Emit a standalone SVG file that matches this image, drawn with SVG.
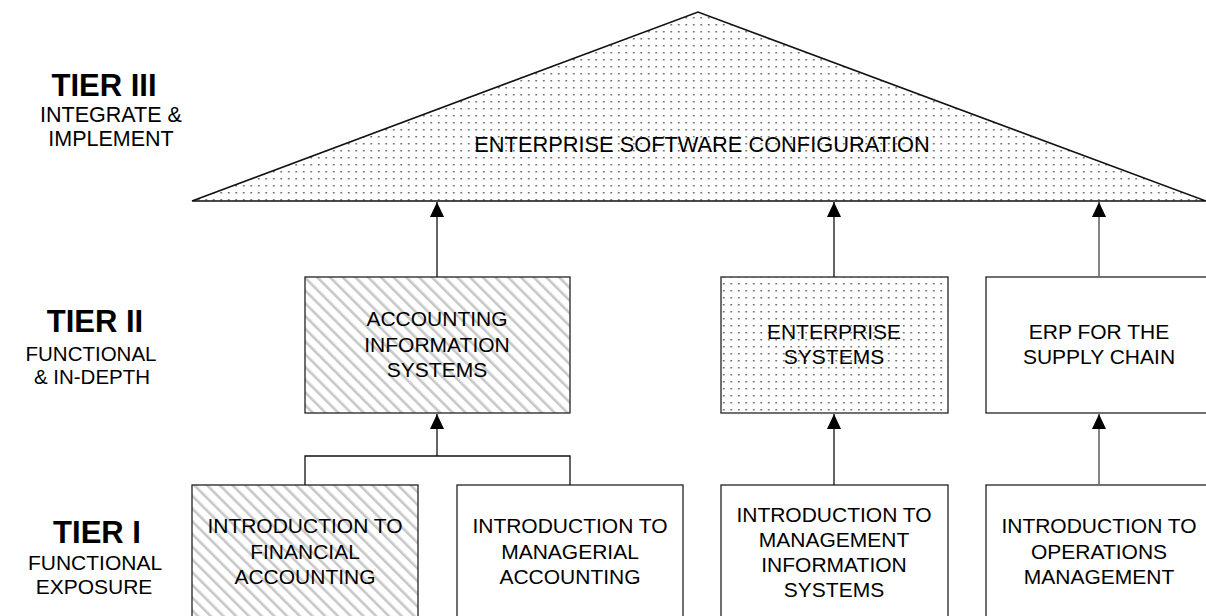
<svg xmlns="http://www.w3.org/2000/svg" width="1206" height="616" viewBox="0 0 1206 616">
<defs>
<style>
.t{font-family:"Liberation Sans",Arial,sans-serif;font-size:21px;fill:#000;text-anchor:middle}
.tier{font-family:"Liberation Sans",Arial,sans-serif;font-size:31px;font-weight:bold;fill:#000;text-anchor:middle}
.sub{font-family:"Liberation Sans",Arial,sans-serif;font-size:21px;fill:#000;text-anchor:middle}
.box{stroke:#222;stroke-width:1.3}
.c{fill:none;stroke:#111;stroke-width:1.3}
.cg{fill:none;stroke:#666;stroke-width:1.6}
</style>
<pattern id="dots" width="7.5" height="7" patternUnits="userSpaceOnUse">
<rect width="7.5" height="7" fill="#fff"/>
<rect x="3" y="3" width="1.5" height="1.5" fill="#555"/>
</pattern>
<pattern id="hatch" width="9" height="9" patternUnits="userSpaceOnUse" patternTransform="rotate(-45)">
<rect width="9" height="9" fill="#fff"/>
<rect x="0" y="0" width="2.6" height="9" fill="#c8c8c8"/>
</pattern>
<marker id="ah" markerUnits="userSpaceOnUse" markerWidth="16" markerHeight="14" refX="15" refY="7" orient="auto" viewBox="0 0 16 14">
<path d="M0,0 L15,7 L0,14 Z" fill="#000"/>
</marker>
</defs>

<g id="labels">
<text class="tier" x="104" y="96">TIER III</text>
<text class="sub" x="111" y="122" style="font-size:21.5px">INTEGRATE &amp;</text>
<text class="sub" x="111" y="146" style="font-size:21.5px">IMPLEMENT</text>
<text class="tier" x="95" y="332">TIER II</text>
<text class="sub" x="91" y="361" style="font-size:20.5px">FUNCTIONAL</text>
<text class="sub" x="92" y="384" style="font-size:20.5px">&amp; IN-DEPTH</text>
<text class="tier" x="97" y="543">TIER I</text>
<text class="sub" x="95" y="570">FUNCTIONAL</text>
<text class="sub" x="94" y="594">EXPOSURE</text>
</g>

<g id="enterprise-config">
<polygon points="192,201 698,12 1206,201" fill="url(#dots)" stroke="#111" stroke-width="1.6"/>
<text class="t" x="702" y="152" style="font-size:21.8px">ENTERPRISE SOFTWARE CONFIGURATION</text>
</g>

<g id="ais">
<rect class="box" x="305" y="277" width="265" height="136" fill="url(#hatch)"/>
<text class="t" x="437" y="326">ACCOUNTING</text>
<text class="t" x="437" y="352">INFORMATION</text>
<text class="t" x="437" y="377">SYSTEMS</text>
</g>

<g id="es">
<rect class="box" x="721" y="277" width="227" height="136" fill="url(#dots)"/>
<text class="t" x="834" y="339">ENTERPRISE</text>
<text class="t" x="834" y="364">SYSTEMS</text>
</g>

<g id="erp">
<rect class="box" x="986" y="277" width="240" height="136" fill="#fff"/>
<text class="t" x="1099" y="339">ERP FOR THE</text>
<text class="t" x="1099" y="364">SUPPLY CHAIN</text>
</g>

<g id="fin">
<rect class="box" x="192" y="485" width="226" height="150" fill="url(#hatch)"/>
<text class="t" x="305" y="533">INTRODUCTION TO</text>
<text class="t" x="305" y="559">FINANCIAL</text>
<text class="t" x="305" y="584">ACCOUNTING</text>
</g>

<g id="man">
<rect class="box" x="457" y="485" width="226" height="150" fill="#fff"/>
<text class="t" x="570" y="533">INTRODUCTION TO</text>
<text class="t" x="570" y="559">MANAGERIAL</text>
<text class="t" x="570" y="584">ACCOUNTING</text>
</g>

<g id="mis">
<rect class="box" x="721" y="485" width="227" height="150" fill="#fff"/>
<text class="t" x="834" y="522">INTRODUCTION TO</text>
<text class="t" x="834" y="547">MANAGEMENT</text>
<text class="t" x="834" y="572">INFORMATION</text>
<text class="t" x="834" y="597">SYSTEMS</text>
</g>

<g id="ops">
<rect class="box" x="986" y="485" width="240" height="150" fill="#fff"/>
<text class="t" x="1099" y="533">INTRODUCTION TO</text>
<text class="t" x="1099" y="559">OPERATIONS</text>
<text class="t" x="1099" y="584">MANAGEMENT</text>
</g>

<g id="connectors">
<path class="c" d="M437,277 V202" marker-end="url(#ah)"/>
<path class="c" d="M834,277 V202" marker-end="url(#ah)"/>
<path class="cg" d="M1099,277 V202" marker-end="url(#ah)"/>
<path class="c" d="M305,485 V456 H570 V485"/>
<path class="c" d="M437,456 V414" marker-end="url(#ah)"/>
<path class="c" d="M834,485 V414" marker-end="url(#ah)"/>
<path class="cg" d="M1099,485 V414" marker-end="url(#ah)"/>
</g>
</svg>
